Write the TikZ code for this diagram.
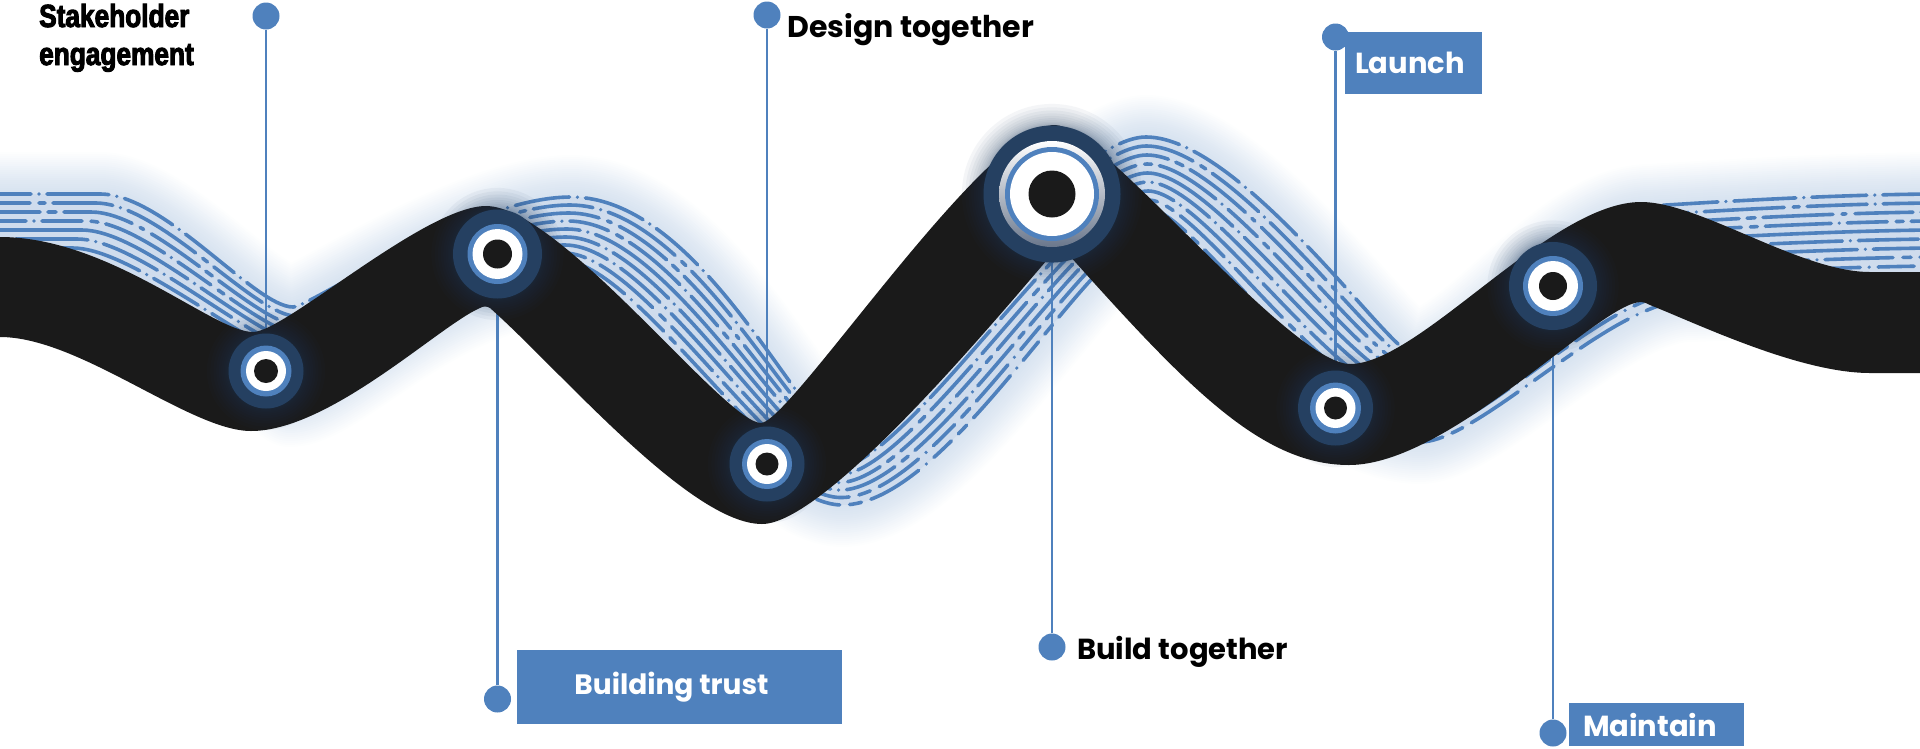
\documentclass[tikz,border=0pt]{standalone}
\usepackage{fontspec}
\setmainfont{Poppins}
\newfontfamily\heavy[FakeStretch=.82,FakeBold=3]{Liberation Sans}
\definecolor{ablue}{HTML}{4F81BD}
\definecolor{navy}{HTML}{254061}
\definecolor{ink}{HTML}{1A1A1A}
\definecolor{tint}{HTML}{CFDCED}
\definecolor{shade}{HTML}{6A778C}
\pgfdeclarelayer{bandlayer}
\pgfdeclarelayer{stemlayer}
\pgfdeclarelayer{ribbonlayer}
\pgfdeclarelayer{glowlayer}
\pgfsetlayers{bandlayer,stemlayer,ribbonlayer,glowlayer,main}
\tikzset{
  pin/.style={circle,fill=ablue,minimum size=27pt,inner sep=0pt},
  stem/.style={draw=ablue,line width=2.8pt},
  bandline/.style={draw=ablue,line width=3.6pt,line cap=round},
  halo/.style={circle,fill=navy,inner sep=0pt},
  ringb/.style={circle,fill=ablue,inner sep=0pt},
  ringw/.style={circle,fill=white,inner sep=0pt},
  eye/.style={circle,fill=ink,inner sep=0pt},
  tagbox/.style={fill=ablue,text=white,inner sep=0pt,font=\fontsize{29}{32}\selectfont\bfseries},
  tagtext/.style={text=black,inner sep=0pt,font=\fontsize{29}{32}\selectfont\bfseries},
  heavytext/.style={text=black,inner sep=0pt,anchor=base west,font=\fontsize{32}{34}\heavy\bfseries},
}
% segment lists: T c1,c2,end | B c1,c2,end
\def\bandsegs{
30/194/60/194/100/194/30/293/40/293/50/293,
165/194/255/307/293/307/90/293/185/335/290/405,
310/307/470/197/571/197/340/405/440/285/560/285,
700/197/798/423/830/423/610/285/760/505/842/505,
850/423/1060/137/1146/137/950/505/1092/236/1150/236,
1240/137/1390/352/1410/352/1175/236/1300/442/1420/442,
1470/352/1560/206/1650/206/1480/442/1610/300/1690/300,
1700/203/1820/195/1930/194/1750/298/1850/294/1930/293}
\begin{document}
\begin{tikzpicture}[x=1pt,y=-1pt]
\useasboundingbox (0,0) rectangle (1920,748);
\begin{pgfonlayer}{bandlayer}
\gdef\tpath{(-10,194)}\gdef\bpath{(-10,293)}
\gdef\prevb{(-10,293)}
\foreach \ax/\ay/\bx/\by/\cx/\cy/\dx/\dy/\ex/\ey/\fx/\fy in \bandsegs {
  \xdef\tpath{\tpath .. controls (\ax,\ay) and (\bx,\by) .. (\cx,\cy)}
  \xdef\bpath{.. controls (\ex,\ey) and (\dx,\dy) .. \prevb\space\bpath}
  \xdef\prevb{(\fx,\fy)}
}
\begin{scope}
\clip (0,0) rectangle (1920,748);
\foreach \w in {84,80,...,4} {
  \edef\tmp{\noexpand\draw[ablue,opacity=.012,line width=\w pt,line join=round] \tpath -- \prevb\space\bpath;}\tmp
}
\edef\tmp{\noexpand\fill[tint] \tpath -- \prevb\space\bpath -- cycle;}\tmp
\foreach \k/\pat/\ph in {
 0/{on 55pt off 8pt on 0pt off 8pt on 62pt off 8pt on 0pt off 8pt}/14,
 1/{on 80pt off 9pt on 6pt off 8pt on 60pt off 8pt on 0pt off 8pt}/40,
 2/{on 58pt off 8pt on 8pt off 8pt on 70pt off 9pt on 4pt off 9pt}/8,
 3/{on 66pt off 8pt on 0pt off 8pt on 40pt off 9pt on 7pt off 8pt}/30,
 4/{on 420pt off 8pt on 0pt off 8pt}/210,
 5/{on 60pt off 8pt on 0pt off 8pt on 72pt off 8pt on 0pt off 8pt}/50,
 6/{on 52pt off 8pt on 0pt off 8pt on 90pt off 8pt on 0pt off 8pt}/4,
 7/{on 68pt off 10pt on 8pt off 9pt on 60pt off 8pt on 0pt off 8pt}/16,
 8/{on 60pt off 9pt on 0pt off 9pt on 36pt off 9pt on 8pt off 9pt}/60,
 9/{on 54pt off 9pt on 8pt off 9pt on 74pt off 8pt on 0pt off 8pt}/24,
 10/{on 48pt off 10pt on 0pt off 10pt on 30pt off 10pt on 12pt off 10pt}/10,
 11/{on 56pt off 10pt on 0pt off 10pt on 24pt off 10pt on 12pt off 10pt}/36} {
  \pgfmathsetmacro\py{194+99*\k/11}
  \xdef\clist{(-10,\py)}
  \foreach \ax/\ay/\bx/\by/\cx/\cy/\dx/\dy/\ex/\ey/\fx/\fy in \bandsegs {
    \pgfmathsetmacro\qa{\ax+(\dx-\ax)*\k/11}
    \pgfmathsetmacro\qb{\ay+(\dy-\ay)*\k/11}
    \pgfmathsetmacro\qc{\bx+(\ex-\bx)*\k/11}
    \pgfmathsetmacro\qd{\by+(\ey-\by)*\k/11}
    \pgfmathsetmacro\qe{\cx+(\fx-\cx)*\k/11}
    \pgfmathsetmacro\qf{\cy+(\fy-\cy)*\k/11}
    \xdef\clist{\clist .. controls (\qa,\qb) and (\qc,\qd) .. (\qe,\qf)}
  }
  \edef\tmp{\noexpand\draw[bandline,dash pattern=\pat,dash phase=\ph pt] \clist;}\tmp
}
\end{scope}
\end{pgfonlayer}
% ribbon
\begin{pgfonlayer}{ribbonlayer}
\fill[ink] (-5,237) -- (0,237)
 .. controls (110,237) and (213,332) .. (253,332)
 .. controls (285,332) and (425,206) .. (486,206)
 .. controls (560,206) and (725,423) .. (761,423)
 .. controls (790,423) and (985,125) .. (1055,125)
 .. controls (1100,125) and (1290,364) .. (1350,364)
 .. controls (1420,364) and (1550,202) .. (1641,202)
 .. controls (1700,202) and (1800,272) .. (1870,272)
 -- (1925,272) -- (1925,373) -- (1870,373)
 .. controls (1800,373) and (1700,325) .. (1650,305)
 .. controls (1646,303) and (1644,302) .. (1641,302)
 .. controls (1600,302) and (1450,465) .. (1349,465)
 .. controls (1260,465) and (1185,385) .. (1060,245)
 .. controls (1020,290) and (830,524) .. (762,524)
 .. controls (690,524) and (560,370) .. (490,308)
 .. controls (487,306) and (483,306) .. (480,308)
 .. controls (440,325) and (330,431) .. (251,431)
 .. controls (190,431) and (80,337) .. (0,337)
 -- (-5,337) -- cycle;
\end{pgfonlayer}
% eyes
\node[halo,minimum size=75pt] (c1) at (266,371) {};
\node[ringb,minimum size=51pt] at (c1) {};
\node[ringw,minimum size=40pt] at (c1) {};
\node[eye,minimum size=24pt] at (c1) {};
\node[halo,minimum size=89pt] (c2) at (497.5,254) {};
\node[ringb,minimum size=60pt] at (c2) {};
\node[ringw,minimum size=50pt] at (c2) {};
\node[eye,minimum size=29pt] at (c2) {};
\node[halo,minimum size=75pt] (c3) at (767,464) {};
\node[ringb,minimum size=50pt] at (c3) {};
\node[ringw,minimum size=40pt] at (c3) {};
\node[eye,minimum size=23pt] at (c3) {};
\node[halo,minimum size=137pt] (c4) at (1052,194) {};
\node[circle,minimum size=106pt,inner sep=0pt,top color=white,bottom color=shade] at (c4) {};
\node[ringb,minimum size=94pt] at (c4) {};
\node[ringw,minimum size=84pt] at (c4) {};
\node[eye,minimum size=47pt] at (c4) {};
\node[halo,minimum size=75pt] (c5) at (1335.5,408) {};
\node[ringb,minimum size=51pt] at (c5) {};
\node[ringw,minimum size=40pt] at (c5) {};
\node[eye,minimum size=23pt] at (c5) {};
\node[halo,minimum size=88pt] (c6) at (1553,286) {};
\node[ringb,minimum size=60pt] at (c6) {};
\node[ringw,minimum size=50pt] at (c6) {};
\node[eye,minimum size=28pt] at (c6) {};
% glows
\begin{pgfonlayer}{glowlayer}
\foreach \c/\r in {c1/37.5,c2/44.5,c3/37.5,c4/68.5,c5/37.5,c6/44} {
  \foreach \i in {1,...,12} {
    \fill[navy,opacity=.05] (\c) circle ({\r+.15*\i*\i});
  }
}
\end{pgfonlayer}
% pins
\node[pin] (d1) at (266,16) {};
\node[pin] (d2) at (497.5,699) {};
\node[pin] (d3) at (767,15) {};
\node[pin] (d4) at (1052,647) {};
\node[pin] (d5) at (1335.5,37) {};
\node[pin] (d6) at (1553,733) {};
\begin{pgfonlayer}{stemlayer}
\foreach \i in {1,...,6} {\draw[stem] (d\i) -- (c\i);}
\end{pgfonlayer}
% labels
\node[heavytext] (t1) at (39,27) {Stakeholder};
\node[heavytext] (t1b) at (39,65) {engagement};
\node[tagtext,anchor=west,font=\fontsize{30}{32}\selectfont\bfseries] (t3) at (787,30) {Design together};
\node[tagtext,anchor=west] (t4) at (1077,652) {Build together};
\node[tagbox,minimum width=325pt,minimum height=74pt,font=\fontsize{28}{32}\selectfont\bfseries] (t2) at (679.5,687) {\kern-16pt\raisebox{-3pt}{Building trust}};
\node[tagbox,minimum width=137pt,minimum height=62pt] (t5) at (1413.5,63) {\kern-7pt\raisebox{-1pt}{Launch}};
\node[tagbox,minimum width=175pt,minimum height=43pt] (t6) at (1656.5,724.5) {\kern-13pt Maintain};
\end{tikzpicture}
\end{document}
